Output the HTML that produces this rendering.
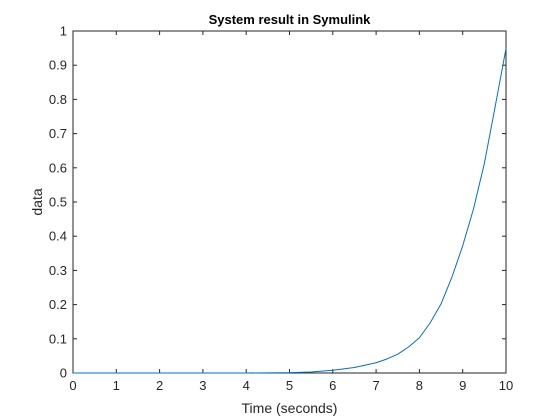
<!DOCTYPE html>
<html><head><meta charset="utf-8"><style>
body{margin:0;background:#fff;}
svg{display:block;font-family:"Liberation Sans",Arial,sans-serif;}
</style></head><body>
<svg id="chart" width="560" height="420" viewBox="0 0 560 420" xmlns="http://www.w3.org/2000/svg">
<rect x="0" y="0" width="560" height="420" fill="#fff"/>
<rect x="73" y="31" width="433" height="342" fill="#fff"/>
<text x="289.5" y="24" text-anchor="middle" font-size="13" font-weight="bold" fill="#000">System result in Symulink</text>
<text x="289.5" y="413" text-anchor="middle" font-size="14" fill="#262626">Time (seconds)</text>
<text transform="translate(42,202) rotate(-90)" text-anchor="middle" font-size="14" fill="#262626">data</text>
</svg>
<script>
const xTicks=[0,1,2,3,4,5,6,7,8,9,10];
const yTicks=[0,0.1,0.2,0.3,0.4,0.5,0.6,0.7,0.8,0.9,1];
const yTickLabels=["0","0.1","0.2","0.3","0.4","0.5","0.6","0.7","0.8","0.9","1"];
const times=[0,1,2,3,4,5,5.5,6,6.5,7,7.25,7.5,7.75,8,8.25,8.5,8.75,9,9.25,9.5,9.75,10];
const values=[0,0,0,0,0,0.001,0.003,0.008,0.016,0.030,0.041,0.055,0.076,0.103,0.147,0.202,0.280,0.372,0.480,0.613,0.779,0.949];
const L=73,R=506,T=31,B=373;
const xs=v=>L+(v-0)/(10-0)*(R-L);
const ys=v=>B-(v-0)/(1-0)*(B-T);
const svg=document.getElementById('chart');
const NS='http://www.w3.org/2000/svg';
function mk(tag,attrs){const e=document.createElementNS(NS,tag);for(const k in attrs)e.setAttribute(k,attrs[k]);svg.appendChild(e);return e;}
xTicks.forEach((t,i)=>{
 const x=xs(t);
 let a=mk('line',{x1:x,x2:x,y1:B,y2:B-4,stroke:'#262626','stroke-width':1});
 
 
 let b=mk('line',{x1:x,x2:x,y1:T,y2:T+4,stroke:'#262626','stroke-width':1});
 
 
 let l=mk('text',{x:x,y:B+17,'text-anchor':'middle','font-size':13,fill:'#262626'});
 l.textContent=String(t);
 
 
});
yTicks.forEach((t,i)=>{
 const y=ys(t);
 let a=mk('line',{x1:L,x2:L+4,y1:y,y2:y,stroke:'#262626','stroke-width':1});
 
 
 let b=mk('line',{x1:R,x2:R-4,y1:y,y2:y,stroke:'#262626','stroke-width':1});
 
 
 let l=mk('text',{x:L-6,y:y+4.5,'text-anchor':'end','font-size':13,fill:'#262626'});
 l.textContent=yTickLabels[i];
 
 
});
const frame=mk('rect',{x:L,y:T,width:R-L,height:B-T,fill:'none',stroke:'#262626','stroke-width':1});


let d=times.map((t,i)=>(i?'L':'M')+xs(t).toFixed(2)+','+ys(values[i]).toFixed(2)).join(' ');
const line=mk('path',{d:d,fill:'none',stroke:'#0072BD','stroke-width':1,'stroke-linejoin':'round'});


</script>
</body></html>
